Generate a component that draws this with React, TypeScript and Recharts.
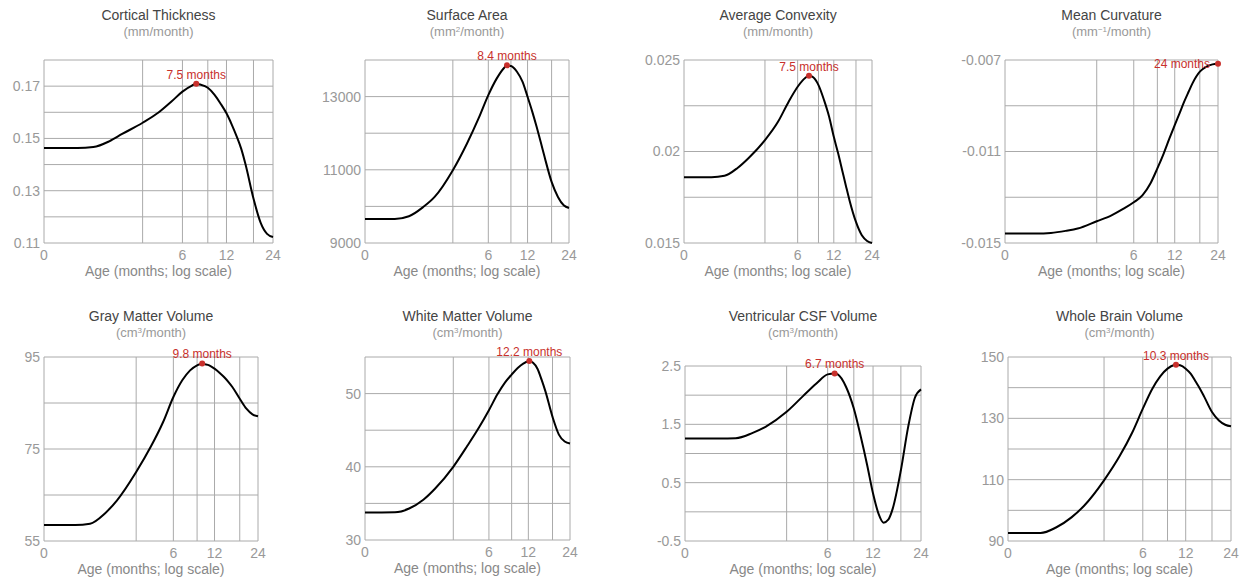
import React from 'react';
import { LineChart, Line, XAxis, YAxis, CartesianGrid, ReferenceDot } from 'recharts';

const ages = [0, 0.3, 0.6, 1, 1.5, 2, 3, 4, 5, 6, 7, 8, 9, 10, 11, 12, 13, 14, 15, 16, 18, 20, 22, 24];

const corticalThickness = [0.1463, 0.1463, 0.1463, 0.1467, 0.1489, 0.1517, 0.156, 0.1599, 0.1641, 0.1679, 0.1702, 0.1706, 0.1694, 0.1667, 0.1632, 0.1596, 0.1553, 0.1508, 0.146, 0.14, 0.127, 0.1178, 0.1135, 0.1123];
const surfaceArea = [9657, 9657, 9657, 9730, 9980, 10259, 10989, 11719, 12403, 13042, 13498, 13790, 13836, 13680, 13407, 12996, 12590, 12175, 11760, 11354, 10670, 10259, 10031, 9958];
const averageConvexity = [0.01859, 0.01859, 0.01859, 0.01867, 0.0191, 0.01962, 0.02062, 0.02162, 0.02272, 0.02354, 0.02403, 0.02409, 0.02363, 0.02281, 0.0219, 0.0208, 0.0199, 0.01898, 0.01812, 0.01734, 0.01615, 0.01542, 0.01511, 0.015];
const meanCurvature = [-0.01459, -0.01459, -0.01459, -0.01456, -0.01447, -0.01437, -0.01405, -0.01379, -0.0135, -0.01322, -0.01291, -0.0124, -0.01174, -0.01109, -0.01043, -0.00985, -0.00932, -0.00882, -0.0084, -0.00802, -0.00751, -0.00729, -0.00719, -0.00716];
const grayMatter = [58.48, 58.48, 58.48, 58.77, 61.0, 63.84, 70.0, 75.58, 80.87, 86.3, 89.93, 92.1, 93.2, 93.5, 93.19, 92.46, 91.6, 90.65, 89.6, 88.48, 85.94, 83.77, 82.54, 82.1];
const whiteMatter = [33.77, 33.77, 33.78, 34.3, 35.5, 37.0, 40.0, 42.9, 45.4, 47.73, 49.9, 51.5, 52.6, 53.5, 54.1, 54.43, 54.2, 53.4, 51.9, 50.3, 46.82, 44.4, 43.45, 43.18];
const ventricularCsf = [1.257, 1.257, 1.257, 1.263, 1.35, 1.458, 1.715, 1.984, 2.2, 2.356, 2.36, 2.14, 1.77, 1.286, 0.8, 0.313, -0.03, -0.185, -0.134, 0.055, 0.713, 1.46, 1.956, 2.1];
const wholeBrain = [92.6, 92.6, 92.6, 94.4, 97.7, 101.5, 109.78, 117.6, 125.3, 133.15, 139.5, 143.7, 146.2, 147.4, 147.3, 146.2, 144.5, 142.0, 139.6, 137.0, 132.07, 129.3, 127.9, 127.4];

const series = [corticalThickness, surfaceArea, averageConvexity, meanCurvature, grayMatter, whiteMatter, ventricularCsf, wholeBrain];

const titles = ['Cortical Thickness', 'Surface Area', 'Average Convexity', 'Mean Curvature', 'Gray Matter Volume', 'White Matter Volume', 'Ventricular CSF Volume', 'Whole Brain Volume'];
// [unit, superscript, rest]
const units: [string, string, string][] = [
  ['mm', '', '/month'],
  ['mm', '2', '/month'],
  ['mm', '', '/month'],
  ['mm', '\u22121', '/month'],
  ['cm', '3', '/month'],
  ['cm', '3', '/month'],
  ['cm', '3', '/month'],
  ['cm', '3', '/month'],
];

const peakAges = [7.5, 8.4, 7.5, 24, 9.8, 12.2, 6.7, 10.3];
const peakValues = [0.1709, 13854, 0.02414, -0.00716, 93.6, 54.45, 2.373, 147.5];

const yDomains = [[0.11, 0.18], [9000, 14000], [0.015, 0.025], [-0.015, -0.007], [55, 95], [30, 55], [-0.5, 2.5], [90, 150]];
const yGrid = [
  [0.11, 0.12, 0.13, 0.14, 0.15, 0.16, 0.17, 0.18],
  [9000, 10000, 11000, 12000, 13000, 14000],
  [0.015, 0.0175, 0.02, 0.0225, 0.025],
  [-0.015, -0.013, -0.011, -0.009, -0.007],
  [55, 65, 75, 85, 95],
  [30, 35, 40, 45, 50, 55],
  [-0.5, 0, 0.5, 1, 1.5, 2, 2.5],
  [90, 100, 110, 120, 130, 140, 150],
];
const yLabels = [
  [0.11, 0.13, 0.15, 0.17],
  [9000, 11000, 13000],
  [0.015, 0.02, 0.025],
  [-0.015, -0.011, -0.007],
  [55, 75, 95],
  [30, 40, 50],
  [-0.5, 0.5, 1.5, 2.5],
  [90, 110, 130, 150],
];

const xGridAges = [0, 3, 6, 9, 12, 18, 24];
const xLabelAges = [0, 6, 12, 24];

// layout: plot box [left, right, top, bottom] in page pixels
const plotBoxes = [
  [44, 273, 60, 243],
  [365, 569, 60, 243],
  [684, 872, 60, 243],
  [1005, 1218, 60, 243],
  [44, 258, 357, 541],
  [365, 570, 357, 540],
  [685, 921, 366, 541],
  [1008, 1231, 357, 541],
];
const rowTops = [0, 0, 0, 0, 301, 301, 301, 301];

const RED = '#c8302c';
const GRID = '#aaaaaa';
const TICK = '#999';

const Y_W = 60;
const M_TOP = 20;
const M_RIGHT = 16;
const X_H = 30;

const Panel: React.FC<{ i: number }> = ({ i }) => {
  const [L, R, T, B] = plotBoxes[i];
  const rowTop = rowTops[i];
  const rows = ages.map((a, k) => ({ t: a + 1, v: series[i][k] }));
  if (!ages.includes(peakAges[i])) rows.push({ t: peakAges[i] + 1, v: peakValues[i] });
  rows.sort((a, b) => a.t - b.t);

  const [u, sup, rest] = units[i];
  const atEnd = peakAges[i] === 24;

  return (
    <>
      <div style={{ position: 'absolute', left: L, width: R - L, top: rowTop + 7, textAlign: 'center', fontSize: 14, lineHeight: '16px', color: '#444' }}>
        {titles[i]}
      </div>
      <div style={{ position: 'absolute', left: L, width: R - L, top: rowTop + 24, textAlign: 'center', fontSize: 13, lineHeight: '15px', color: '#999' }}>
        ({u}{sup && <sup style={{ fontSize: 8, verticalAlign: 'top', position: 'relative', top: -2 }}>{sup}</sup>}{rest})
      </div>
      <div style={{ position: 'absolute', left: L - Y_W, top: T - M_TOP }}>
        <LineChart
          width={Y_W + (R - L) + M_RIGHT}
          height={M_TOP + (B - T) + X_H}
          data={rows}
          margin={{ top: M_TOP, right: M_RIGHT, bottom: 0, left: 0 }}
        >
          <CartesianGrid stroke={GRID} strokeWidth={1} />
          <XAxis
            dataKey="t"
            type="number"
            scale="log"
            domain={[1, 25]}
            ticks={xGridAges.map((a) => a + 1)}
            tickFormatter={(v: number) => (xLabelAges.includes(v - 1) ? String(v - 1) : '')}
            interval={0}
            height={X_H}
            axisLine={false}
            tickLine={false}
            tickSize={0}
            tickMargin={7}
            tick={{ fill: TICK, fontSize: 14 }}
          />
          <YAxis
            type="number"
            domain={yDomains[i]}
            ticks={yGrid[i]}
            tickFormatter={(v: number) => (yLabels[i].includes(v) ? String(v) : '')}
            interval={0}
            width={Y_W}
            axisLine={false}
            tickLine={false}
            tickSize={0}
            tickMargin={4}
            tick={{ fill: TICK, fontSize: 14 }}
          />
          <Line type="monotone" dataKey="v" stroke="#000" strokeWidth={2} dot={false} isAnimationActive={false} />
          <ReferenceDot
            x={peakAges[i] + 1}
            y={peakValues[i]}
            r={3}
            fill={RED}
            stroke="none"
            ifOverflow="visible"
            label={{
              value: `${peakAges[i]} months`,
              position: atEnd ? 'left' : 'top',
              offset: atEnd ? 5 : 2,
              fill: RED,
              fontSize: 12,
            }}
          />
        </LineChart>
      </div>
      <div style={{ position: 'absolute', left: L - 40, width: R - L + 80, top: B + 20, textAlign: 'center', fontSize: 14, lineHeight: '16px', color: '#888' }}>
        Age (months; log scale)
      </div>
    </>
  );
};

const App: React.FC = () => {
  return (
    <div
      style={{
        position: 'absolute',
        left: 0,
        top: 0,
        width: 1247,
        height: 584,
        background: '#fff',
        fontFamily: 'Helvetica, Arial, "Liberation Sans", sans-serif',
      }}
    >
      {titles.map((_, i) => (
        <Panel key={i} i={i} />
      ))}
    </div>
  );
};

export default App;
